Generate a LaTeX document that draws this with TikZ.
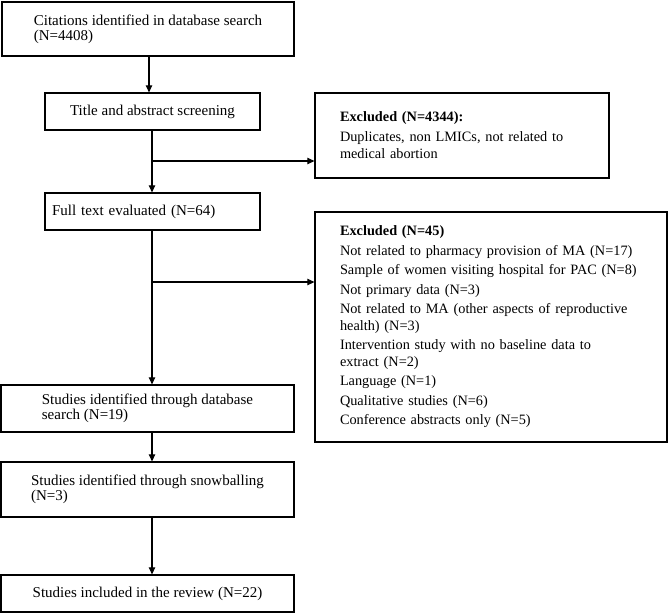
\documentclass[tikz,border=0pt]{standalone}
\usepackage{fontspec}
\setmainfont{Liberation Serif}
\usetikzlibrary{arrows.meta}
\begin{document}
\begin{tikzpicture}[x=1pt,y=1pt,
  box/.style={draw,line width=1.3pt,inner sep=0pt,align=left,font=\fontsize{15}{15}\selectfont},
  exbox/.style={draw,line width=1.3pt,inner ysep=0pt,inner xsep=25pt,align=left},
  arr/.style={line width=1.1pt,-{Triangle[length=7pt,width=6.5pt]}}]
\useasboundingbox (0,0) rectangle (668,-613);
\node[box,minimum width=292,minimum height=54] (b1) at (148,-29) {Citations identified in database search\\(N=4408)};
\node[box,minimum width=215,minimum height=37] (b2) at (152.5,-111.5) {Title and abstract screening};
\node[exbox,text width=244,minimum height=85,font=\fontsize{14.3}{17}\selectfont] (ex1) at (462,-135.5)
  {\textbf{Excluded (N=4344):}\\[3pt]Duplicates, non LMICs, not related to\\medical abortion};
\node[box,minimum width=215,minimum height=37,text width=201,inner xsep=7pt] (b3) at (152.5,-211.5) {Full text evaluated (N=64)};
\node[exbox,text width=302,minimum height=230,font=\fontsize{14.3}{16.5}\selectfont] (ex2) at (491,-327)
  {\textbf{Excluded (N=45)}\\[3pt]
   Not related to pharmacy provision of MA (N=17)\\[3pt]
   Sample of women visiting hospital for PAC (N=8)\\[3pt]
   Not primary data (N=3)\\[3pt]
   Not related to MA (other aspects of reproductive\\health) (N=3)\\[3pt]
   Intervention study with no baseline data to\\extract (N=2)\\[3pt]
   Language (N=1)\\[3pt]
   Qualitative studies (N=6)\\[3pt]
   Conference abstracts only (N=5)};
\node[box,minimum width=293,minimum height=47] (b4) at (147.5,-408.5) {Studies identified through database\\search (N=19)};
\node[box,minimum width=293,minimum height=55] (b5) at (147.5,-489.5) {Studies identified through snowballing\\(N=3)};
\node[box,minimum width=293,minimum height=37] (b6) at (147.5,-593.5) {Studies included in the review (N=22)};
\coordinate (s0) at (149,0);
\coordinate (s) at (152,0);
\coordinate (j1) at (152,-161);
\coordinate (j2) at (152,-282);
\draw[arr] (b1.south -| s0) -- (b2.north -| s0);
\draw[arr] (b2.south -| s) -- (b3.north -| s);
\draw[arr] (j1) -- (j1 -| ex1.west);
\draw[arr] (b3.south -| s) -- (b4.north -| s);
\draw[arr] (j2) -- (j2 -| ex2.west);
\draw[arr] (b4.south -| s) -- (b5.north -| s);
\draw[arr] (b5.south -| s) -- (b6.north -| s);
\end{tikzpicture}
\end{document}
